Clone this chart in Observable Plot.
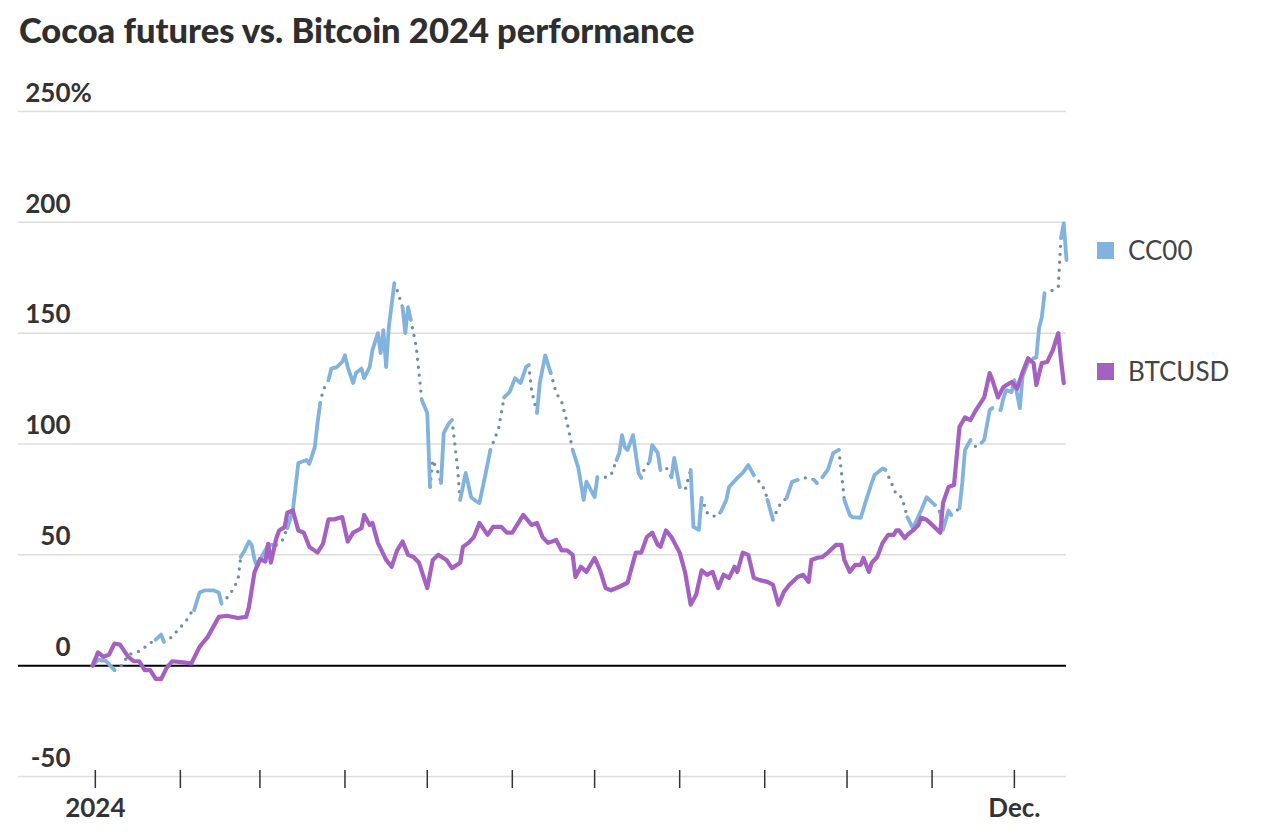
<!DOCTYPE html>
<html><head><meta charset="utf-8">
<script src="https://cdn.jsdelivr.net/npm/d3@7"></script>
<script src="https://cdn.jsdelivr.net/npm/@observablehq/plot@0.6"></script>
<style>
body{margin:0;background:#fff;font-family:Lato,sans-serif;color:#333;width:1266px;height:838px;position:relative;overflow:hidden}
#title{position:absolute;left:19px;top:9px;font-size:34.5px;font-weight:900;color:#2e2e2e;white-space:nowrap}
#chart{position:absolute;left:0;top:60px}
.legend-item{position:absolute;left:1097px;height:26px;display:flex;align-items:center;font-size:26px;font-weight:400;color:#444;line-height:26px;white-space:nowrap}
.swatch{width:17px;height:17px;margin-right:14px}
</style></head>
<body>
<div id="title">Cocoa futures vs. Bitcoin 2024 performance</div>
<div id="chart"></div>
<div id="legend"></div>
<script>
// ---------- data ----------
const seriesNames = ["CC00", "BTCUSD"];
const seriesColors = ["#82b3de", "#a561c1"];
const yTicks = [-50, 0, 50, 100, 150, 200, 250];
const monthTicks = ["2024-01-01","2024-02-01","2024-03-01","2024-04-01","2024-05-01","2024-06-01",
  "2024-07-01","2024-08-01","2024-09-01","2024-10-01","2024-11-01","2024-12-01"];
const monthTickLabels = ["2024","","","","","","","","","","","Dec."];
const xDomain = ["2023-12-04", "2024-12-20"];

// Bitcoin performance, % since start of 2024
const btcSeries = [
["2023-12-31",0],["2024-01-02",6],["2024-01-04",4],["2024-01-06",5],["2024-01-08",10],["2024-01-10",9.5],
["2024-01-13",4],["2024-01-15",2],["2024-01-17",2],["2024-01-19",-2],["2024-01-21",-2],["2024-01-23",-6],
["2024-01-25",-6],["2024-01-27",-1],["2024-01-29",2],["2024-02-02",1.5],["2024-02-05",1],["2024-02-08",8.5],
["2024-02-11",13],["2024-02-13",17.5],["2024-02-15",22],["2024-02-18",22.5],["2024-02-22",21.5],["2024-02-25",22],
["2024-02-26",26.5],["2024-02-28",42],["2024-03-01",48],["2024-03-03",47],["2024-03-04",55],["2024-03-05",46.5],
["2024-03-07",57.6],["2024-03-08",61],["2024-03-10",62.5],["2024-03-11",69],["2024-03-13",70],["2024-03-15",61],
["2024-03-17",60],["2024-03-19",53.6],["2024-03-22",51],["2024-03-24",55],["2024-03-26",66],["2024-03-28",66],
["2024-03-30",66.7],["2024-03-31",67],["2024-04-02",56],["2024-04-04",60],["2024-04-07",62],["2024-04-08",68],
["2024-04-10",63.5],["2024-04-11",64.4],["2024-04-13",55.4],["2024-04-16",47.7],["2024-04-18",44.6],["2024-04-20",52],
["2024-04-22",56],["2024-04-24",50],["2024-04-26",49],["2024-04-28",46.4],["2024-05-01",35],["2024-05-03",47.7],
["2024-05-05",50],["2024-05-08",47.7],["2024-05-10",44],["2024-05-13",46.4],["2024-05-14",53.6],["2024-05-16",55.4],
["2024-05-18",58],["2024-05-20",64.4],["2024-05-23",59],["2024-05-25",62.6],["2024-05-28",62.6],["2024-05-30",60],
["2024-06-01",60],["2024-06-05",68],["2024-06-08",63.5],["2024-06-10",64.4],["2024-06-12",58],["2024-06-14",55.4],
["2024-06-17",56.7],["2024-06-19",52],["2024-06-21",52],["2024-06-23",50],["2024-06-24",40],["2024-06-26",44.6],
["2024-06-28",42.3],["2024-07-01",48.6],["2024-07-03",43],["2024-07-05",35],["2024-07-07",34],["2024-07-10",35.6],
["2024-07-13",37.4],["2024-07-16",51],["2024-07-18",51],["2024-07-20",58],["2024-07-22",60],["2024-07-24",54.5],
["2024-07-25",53.6],["2024-07-27",61],["2024-07-29",58],["2024-08-01",51],["2024-08-03",42],["2024-08-05",27.5],
["2024-08-07",32],["2024-08-09",43],["2024-08-11",41],["2024-08-13",42.3],["2024-08-15",35],["2024-08-17",41],
["2024-08-19",39.6],["2024-08-21",44.6],["2024-08-22",42.3],["2024-08-24",51],["2024-08-26",50],["2024-08-28",39.6],
["2024-08-30",38.7],["2024-09-02",37.8],["2024-09-04",36.5],["2024-09-06",27.5],["2024-09-08",33.3],["2024-09-10",36.5],
["2024-09-13",40],["2024-09-15",41],["2024-09-17",37.8],["2024-09-18",47.7],["2024-09-20",48.6],["2024-09-22",49],
["2024-09-24",51],["2024-09-27",54.5],["2024-09-29",54.5],["2024-09-30",47.7],["2024-10-02",42.3],["2024-10-04",45.5],
["2024-10-06",45.5],["2024-10-07",48.6],["2024-10-09",42.3],["2024-10-10",46.4],["2024-10-12",49],["2024-10-14",55.4],
["2024-10-16",59],["2024-10-18",59],["2024-10-19",61],["2024-10-20",61],["2024-10-22",57.6],["2024-10-23",59],
["2024-10-25",61],["2024-10-27",63.5],["2024-10-28",66.7],["2024-10-30",65.8],["2024-11-01",63.5],["2024-11-04",60],
["2024-11-05",73.4],["2024-11-07",80.6],["2024-11-09",81.5],["2024-11-11",107.7],["2024-11-13",112],["2024-11-15",110.8],
["2024-11-17",115.3],["2024-11-20",121],["2024-11-22",132],["2024-11-23",128.8],["2024-11-25",121],["2024-11-27",125.7],
["2024-11-30",128],["2024-12-02",125],["2024-12-04",132.4],["2024-12-06",138.7],["2024-12-08",136.5],["2024-12-09",126.6],
["2024-12-11",136.5],["2024-12-13",137],["2024-12-15",142.3],["2024-12-17",150],["2024-12-18",137.8],["2024-12-19",127.5]
];

// Cocoa futures (CC00) performance, % since start of 2024
const ccSeries = [
["2023-12-31",0],["2024-01-02",2.7],["2024-01-05",2],["2024-01-08",-2],["2024-01-11",0.5],["2024-01-13",5],
["2024-01-16",6],["2024-01-18",7],["2024-01-20",9.5],["2024-01-23",11.7],["2024-01-25",14],["2024-01-26",10.8],
["2024-01-29",13],["2024-01-31",16],["2024-02-03",20],["2024-02-05",24],["2024-02-06",25],["2024-02-08",33],
["2024-02-10",34],["2024-02-13",34],["2024-02-15",33],["2024-02-16",28],["2024-02-18",30.6],["2024-02-20",34],
["2024-02-22",38.7],["2024-02-23",49],["2024-02-24",51],["2024-02-26",56],["2024-02-27",54.5],["2024-02-28",48],
["2024-02-29",44.6],["2024-03-02",50],["2024-03-04",54.5],["2024-03-07",54.5],["2024-03-09",56],["2024-03-11",62],
["2024-03-13",70],["2024-03-14",80.6],["2024-03-15",91.4],["2024-03-18",92.8],["2024-03-19",91],["2024-03-21",98.6],
["2024-03-22",109.5],["2024-03-23",118.5],["2024-03-24",124.3],["2024-03-26",128.8],["2024-03-27",134],["2024-03-29",134.7],
["2024-03-31",137],["2024-04-01",140],["2024-04-02",134.7],["2024-04-04",127.5],["2024-04-05",132],["2024-04-07",134],
["2024-04-08",129.7],["2024-04-10",134.7],["2024-04-11",142.3],["2024-04-13",150],["2024-04-14",141],["2024-04-15",151.4],
["2024-04-16",134.7],["2024-04-17",153],["2024-04-19",172.5],["2024-04-20",169.4],["2024-04-22",161.7],["2024-04-23",150],
["2024-04-24",161.7],["2024-04-25",156],["2024-04-27",143.7],["2024-04-28",132],["2024-04-29",119.8],["2024-05-01",114],
["2024-05-02",80.6],["2024-05-03",92.8],["2024-05-05",87],["2024-05-06",82.4],["2024-05-07",105],["2024-05-09",109.5],
["2024-05-10",110.8],["2024-05-11",100.5],["2024-05-12",89.6],["2024-05-13",74.8],["2024-05-15",87],["2024-05-17",76],
["2024-05-19",74],["2024-05-20",73.4],["2024-05-22",85],["2024-05-24",97.3],["2024-05-27",107],["2024-05-29",121],
["2024-05-31",123.4],["2024-06-02",129.7],["2024-06-04",127.5],["2024-06-06",134.7],["2024-06-07",135.6],["2024-06-08",124.3],
["2024-06-10",114],["2024-06-11",127.5],["2024-06-13",140],["2024-06-15",132],["2024-06-17",123],["2024-06-19",119],
["2024-06-21",109.5],["2024-06-23",97.3],["2024-06-25",89.6],["2024-06-27",74.8],["2024-06-28",83],["2024-07-01",76],
["2024-07-02",85],["2024-07-05",85],["2024-07-07",86],["2024-07-09",92.8],["2024-07-10",96],["2024-07-11",104],
["2024-07-12",98.6],["2024-07-13",97.3],["2024-07-15",104],["2024-07-17",87],["2024-07-18",84.7],["2024-07-19",88.3],
["2024-07-21",92],["2024-07-22",99.5],["2024-07-24",96],["2024-07-25",88.3],["2024-07-27",89.6],["2024-07-29",85],
["2024-07-30",93.7],["2024-08-01",80.6],["2024-08-03",79.3],["2024-08-05",88.3],["2024-08-06",62.6],["2024-08-08",61.3],
["2024-08-09",75.7],["2024-08-11",69],["2024-08-12",69],["2024-08-14",67],["2024-08-16",69.4],["2024-08-18",74.8],
["2024-08-19",80.6],["2024-08-22",84.7],["2024-08-24",87],["2024-08-26",90.5],["2024-08-28",86],["2024-08-30",83],
["2024-09-01",79.3],["2024-09-02",74.8],["2024-09-04",65.8],["2024-09-06",71.6],["2024-09-07",73.4],["2024-09-09",75.7],
["2024-09-11",83],["2024-09-13",83.8],["2024-09-15",84.7],["2024-09-17",84.7],["2024-09-19",83.8],["2024-09-20",82.4],
["2024-09-22",85],["2024-09-24",88.3],["2024-09-26",96],["2024-09-28",97.3],["2024-09-29",87],["2024-09-30",74.8],
["2024-10-02",68],["2024-10-03",67],["2024-10-06",66.7],["2024-10-08",74.8],["2024-10-10",82.4],["2024-10-11",86],
["2024-10-14",89],["2024-10-15",88.3],["2024-10-17",83],["2024-10-19",77],["2024-10-21",76],["2024-10-23",67],
["2024-10-25",62],["2024-10-28",70],["2024-10-30",76],["2024-10-31",74.8],["2024-11-02",72.5],["2024-11-04",69],
["2024-11-05",61.3],["2024-11-07",70],["2024-11-08",68],["2024-11-11",71],["2024-11-12",82.4],["2024-11-13",97.3],
["2024-11-15",101.8],["2024-11-17",98.6],["2024-11-19",100.5],["2024-11-20",101.8],["2024-11-22",115.3],["2024-11-23",116.2],
["2024-11-26",115.3],["2024-11-27",120.7],["2024-11-28",124.3],["2024-11-30",123.4],["2024-12-01",128.8],["2024-12-03",116.2],
["2024-12-04",130.6],["2024-12-06",137],["2024-12-08",138.7],["2024-12-09",139],["2024-12-10",152.3],["2024-12-11",157.2],
["2024-12-12",168],["2024-12-15",169.4],["2024-12-17",170.7],["2024-12-18",193],["2024-12-19",199.5],["2024-12-20",183]
];

// stretches where the cocoa series is shown dotted (sparse data)
const ccGaps = [
["2024-01-08","2024-01-23"],["2024-01-26","2024-02-06"],["2024-02-16","2024-02-23"],["2024-03-07","2024-03-11"],
["2024-03-23","2024-03-26"],["2024-04-19","2024-04-22"],["2024-04-25","2024-04-29"],["2024-05-02","2024-05-06"],
["2024-05-10","2024-05-13"],["2024-05-24","2024-05-29"],["2024-06-07","2024-06-10"],["2024-06-15","2024-06-23"],
["2024-07-02","2024-07-09"],["2024-07-18","2024-07-21"],["2024-07-25","2024-07-29"],["2024-08-01","2024-08-05"],
["2024-08-09","2024-08-16"],["2024-08-28","2024-09-02"],["2024-09-04","2024-09-09"],["2024-09-13","2024-09-19"],
["2024-09-20","2024-09-22"],["2024-09-28","2024-09-30"],["2024-10-15","2024-10-23"],["2024-11-02","2024-11-04"],
["2024-11-08","2024-11-11"],["2024-11-15","2024-11-19"],["2024-11-23","2024-11-26"],["2024-12-06","2024-12-08"],
["2024-12-12","2024-12-18"]
];

// ---------- build ----------
const parse = d3.utcParse("%Y-%m-%d");
const btcData = btcSeries.map(([d, v]) => ({date: parse(d), value: v}));
const ccData = ccSeries.map(([d, v]) => ({date: parse(d), value: v}));
const gaps = ccGaps.map(([s, e]) => [parse(s), parse(e)]);
const tickDates = monthTicks.map(parse);

let seg = 0;
const ccSolid = [];
ccData.forEach((p, i) => {
  if (i > 0 && gaps.some(([s, e]) => ccData[i - 1].date >= s && p.date <= e)) seg++;
  const inside = gaps.some(([s, e]) => p.date > s && p.date < e);
  if (!inside) ccSolid.push({...p, seg});
});
const ccDotted = [];
gaps.forEach(([s, e], gi) => {
  ccData.filter(p => p.date >= s && p.date <= e).forEach(p => ccDotted.push({...p, gi}));
});

const tickLabel = d => monthTickLabels[tickDates.findIndex(t => +t === +d)] ?? "";

const chart = Plot.plot({
  width: 1266,
  height: 775,
  marginTop: 51,
  marginBottom: 59,
  marginLeft: 18,
  marginRight: 200,
  x: {type: "utc", domain: xDomain.map(parse), label: null},
  y: {domain: [-50, 250], axis: null},
  style: {fontFamily: "Lato, sans-serif", fontSize: "26px", fontWeight: 700, color: "#333", background: "transparent", overflow: "visible"},
  marks: [
    Plot.ruleY(yTicks.filter(d => d !== 0), {stroke: "#dddddd", strokeWidth: 1.5}),
    Plot.ruleY([0], {stroke: "#000", strokeWidth: 2}),
    Plot.text(yTicks, {y: d => d, text: d => String(d), frameAnchor: "left", dx: 52, dy: -18, textAnchor: "end", fill: "#333"}),
    Plot.text(yTicks.slice(-1), {y: d => d, text: () => "%", frameAnchor: "left", dx: 52, dy: -18, textAnchor: "start", fill: "#333"}),
    Plot.axisX({ticks: tickDates, tickSize: 18, dy: -6, tickFormat: () => "", stroke: "#333", strokeWidth: 1.5, label: null}),
    Plot.axisX({ticks: tickDates, tickSize: 0, tickPadding: 22, tickFormat: tickLabel, fill: "#333", label: null}),
    Plot.line(ccDotted, {x: "date", y: "value", z: "gi", stroke: "#6f8fa4", strokeWidth: 3.4, strokeDasharray: "0 8", strokeLinecap: "round"}),
    Plot.line(ccSolid, {x: "date", y: "value", z: "seg", stroke: seriesColors[0], strokeWidth: 3.8}),
    Plot.line(btcData, {x: "date", y: "value", stroke: seriesColors[1], strokeWidth: 4.2})
  ]
});
document.getElementById("chart").appendChild(chart);

// legend
const legendTops = [237, 358];
const legend = document.getElementById("legend");
seriesNames.forEach((name, i) => {
  const item = document.createElement("div");
  item.className = "legend-item";
  item.style.top = legendTops[i] + "px";
  item.innerHTML = `<span class="swatch" style="background:${seriesColors[i]}"></span><span>${name}</span>`;
  legend.appendChild(item);
});
</script>
</body></html>
